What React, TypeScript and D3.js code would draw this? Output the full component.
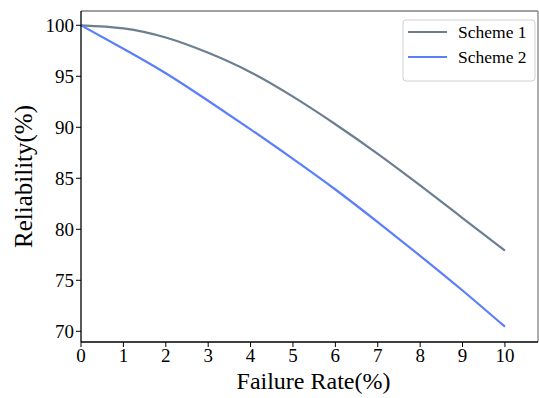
import React from 'react';
import * as d3 from 'd3';

const failureRates = [0, 1, 2, 3, 4, 5, 6, 7, 8, 9, 10];
const scheme1 = [100, 99.7, 98.8, 97.3, 95.4, 93.0, 90.3, 87.4, 84.3, 81.1, 77.9];
const scheme2 = [100, 97.7, 95.3, 92.6, 89.8, 86.9, 83.9, 80.7, 77.4, 74.0, 70.45];
const xTicks = [0, 1, 2, 3, 4, 5, 6, 7, 8, 9, 10];
const yTicks = [70, 75, 80, 85, 90, 95, 100];
const seriesNames = ['Scheme 1', 'Scheme 2'];
const seriesColors = ['#6b7f91', '#5b7efa'];

const W = 539;
const H = 398;
const margin = { top: 11, right: 1, bottom: 56, left: 81 };
const font = '"Liberation Serif", "DejaVu Serif", serif';

export default function App() {
  const innerW = W - margin.left - margin.right;
  const innerH = H - margin.top - margin.bottom;

  const x = d3.scaleLinear().domain([0, 10.78]).range([0, innerW]);
  const y = d3.scaleLinear().domain([68.95, 101.4]).range([innerH, 0]);

  const line = d3
    .line<number>()
    .x((_, i) => x(failureRates[i]))
    .y((d) => y(d))
    .curve(d3.curveNatural);

  const series = [scheme1, scheme2];

  return (
    <svg width={W} height={H} style={{ position: 'absolute', left: 0, top: 0, background: '#fff' }}>
      <g transform={`translate(${margin.left},${margin.top})`}>
        {series.map((s, i) => (
          <path key={i} d={line(s) || ''} fill="none" stroke={seriesColors[i]} strokeWidth={2.2} />
        ))}

        {/* frame */}
        <line x1={0} x2={innerW} y1={0} y2={0} stroke="#808080" strokeWidth={1.3} />
        <line x1={innerW} x2={innerW} y1={0} y2={innerH} stroke="#808080" strokeWidth={1.3} />
        <line x1={0} x2={0} y1={0} y2={innerH} stroke="#000" strokeWidth={1.3} />
        <line x1={0} x2={innerW} y1={innerH} y2={innerH} stroke="#000" strokeWidth={1.3} />

        {/* x axis */}
        {xTicks.map((t) => (
          <g key={t} transform={`translate(${x(t)},${innerH})`}>
            <line y1={0} y2={5} stroke="#000" strokeWidth={1} />
            <text y={20} textAnchor="middle" fontFamily={font} fontSize={19} fill="#000">
              {t}
            </text>
          </g>
        ))}
        <text
          x={innerW / 2 + 4}
          y={innerH + 47}
          textAnchor="middle"
          fontFamily={font}
          fontSize={24}
          fill="#000"
        >
          Failure Rate(%)
        </text>

        {/* y axis */}
        {yTicks.map((t) => (
          <g key={t} transform={`translate(0,${y(t)})`}>
            <line x1={-5} x2={0} stroke="#000" strokeWidth={1} />
            <text x={-7} dy="0.35em" textAnchor="end" fontFamily={font} fontSize={19} fill="#000">
              {t}
            </text>
          </g>
        ))}
        <text
          transform={`translate(${-49},${innerH / 2}) rotate(-90)`}
          textAnchor="middle"
          fontFamily={font}
          fontSize={25}
          fill="#000"
        >
          Reliability(%)
        </text>

        {/* legend */}
        <g transform={`translate(${innerW - 135},${9})`}>
          <rect x={0} y={0} width={132} height={61} rx={3} fill="#fff" stroke="#d0d0d0" strokeWidth={1} />
          {seriesNames.map((name, i) => (
            <g key={name} transform={`translate(0,${12 + i * 25})`}>
              <line x1={5} x2={44} stroke={seriesColors[i]} strokeWidth={2.2} />
              <text x={55} dy="0.35em" fontFamily={font} fontSize={17.5} fill="#000">
                {name}
              </text>
            </g>
          ))}
        </g>
      </g>
    </svg>
  );
}
